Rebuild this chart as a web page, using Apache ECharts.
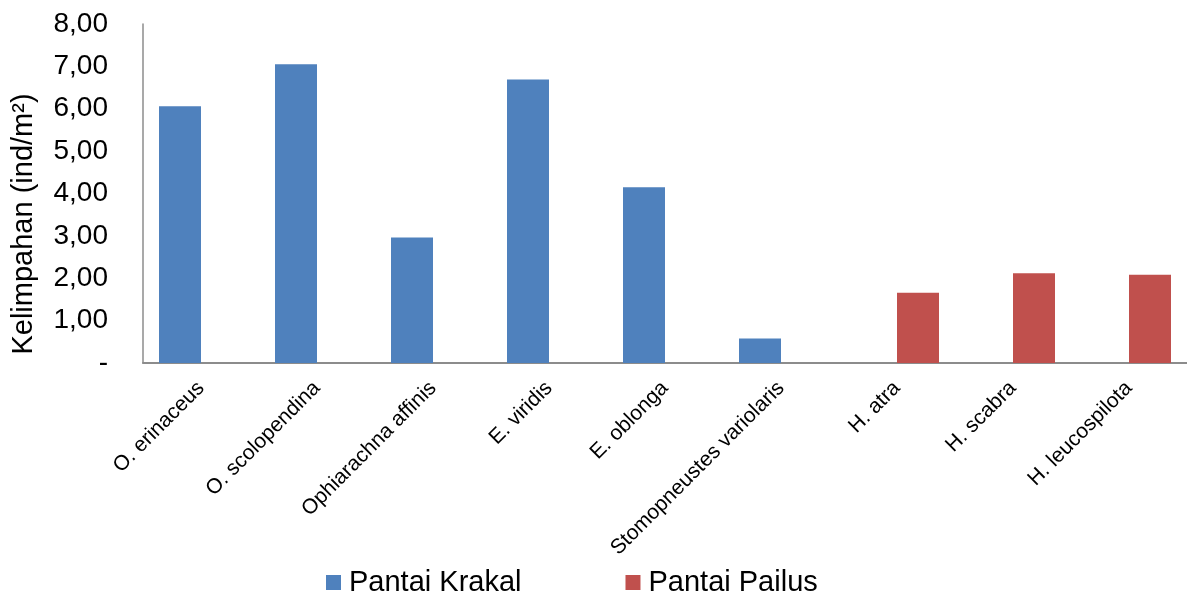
<!DOCTYPE html>
<html>
<head>
<meta charset="utf-8">
<script src="https://cdn.jsdelivr.net/npm/echarts@6/dist/echarts.min.js"></script>
<style>
  html, body { margin: 0; padding: 0; background: #fff; }
  #chart { width: 1187px; height: 595px; }
</style>
</head>
<body>
<div id="chart"></div>
<script>
// Species abundance (individuals per square metre) at two beaches
const categories = [
  'O. erinaceus', 'O. scolopendina', 'Ophiarachna affinis', 'E. viridis',
  'E. oblonga', 'Stomopneustes variolaris', 'H. atra', 'H. scabra', 'H. leucospilota'
];
const krakal = [6.06, 7.05, 2.96, 6.69, 4.15, 0.58, null, null, null];
const pailus = [null, null, null, null, null, null, 1.66, 2.12, 2.08];
const seriesNames = ['Pantai Krakal', 'Pantai Pailus'];
const yTitle = 'Kelimpahan (ind/m\u00B2)';

const FONT = 'Arial, "Liberation Sans", sans-serif';

const chart = echarts.init(document.getElementById('chart'), null, { renderer: 'canvas' });

chart.setOption({
  animation: false,
  backgroundColor: '#ffffff',
  textStyle: { fontFamily: FONT, color: '#000' },
  grid: { left: 143, top: 24, width: 1053, height: 339, containLabel: false },
  legend: {
    data: seriesNames,
    left: 321,
    top: 563,
    icon: 'rect',
    itemWidth: 15,
    itemHeight: 15,
    itemGap: 104,
    textStyle: { fontFamily: FONT, fontSize: 29, color: '#000', padding: [0, 0, 0, 3] }
  },
  xAxis: {
    type: 'category',
    data: categories,
    axisLine: { lineStyle: { color: '#8c8c8c', width: 2 } },
    axisTick: { show: false },
    axisLabel: {
      interval: 0,
      rotate: 45,
      margin: 22,
      fontFamily: FONT,
      fontSize: 21,
      color: '#000'
    }
  },
  yAxis: {
    type: 'value',
    min: 0,
    max: 8,
    interval: 1,
    splitLine: { show: false },
    axisLine: { show: true, lineStyle: { color: '#8c8c8c', width: 1.5 } },
    axisTick: { show: false },
    axisLabel: {
      margin: 35,
      fontFamily: FONT,
      fontSize: 28,
      color: '#000',
      formatter: v => v === 0 ? '-' : v.toFixed(2).replace('.', ',')
    }
  },
  graphic: [{
    type: 'text',
    x: 24,
    y: 224,
    rotation: Math.PI / 2,
    style: {
      text: yTitle,
      font: '29px ' + FONT,
      fill: '#000',
      textAlign: 'center',
      textVerticalAlign: 'middle'
    }
  }],
  series: [
    {
      name: seriesNames[0],
      type: 'bar',
      data: krakal,
      barWidth: 42,
      barGap: '0%',
      itemStyle: { color: '#4f81bd' }
    },
    {
      name: seriesNames[1],
      type: 'bar',
      data: pailus,
      barWidth: 42,
      barGap: '0%',
      itemStyle: { color: '#c0504d' }
    }
  ]
});
</script>
</body>
</html>
